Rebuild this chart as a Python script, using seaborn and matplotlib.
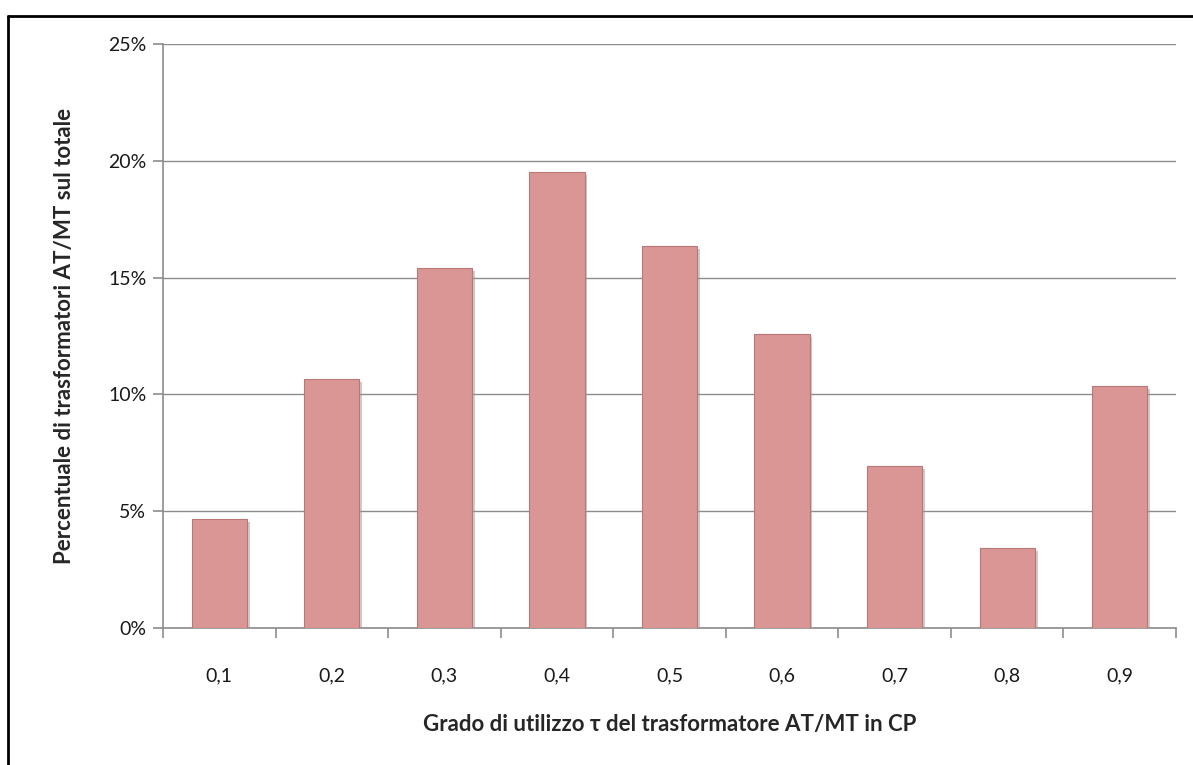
import matplotlib
matplotlib.use("Agg")
import matplotlib.pyplot as plt
import matplotlib.patheffects as pe
from matplotlib.ticker import FuncFormatter
import seaborn as sns
import pandas as pd

categories = ["0,1", "0,2", "0,3", "0,4", "0,5", "0,6", "0,7", "0,8", "0,9"]
values = [4.67, 10.66, 15.41, 19.52, 16.35, 12.59, 6.93, 3.42, 10.36]

sns.set_style("white")
plt.rcParams['font.family'] = ['Lato', 'DejaVu Sans']

df = pd.DataFrame({"cat": categories, "val": values})

fig = plt.figure(figsize=(11.93, 7.65), dpi=100)
ax = fig.add_axes([163/1193, 137/765, (1176-163)/1193, (628-44)/765])

sns.barplot(data=df, x="cat", y="val", order=categories, color="#D99694",
            width=0.49, saturation=1, ax=ax, edgecolor="#B97775", linewidth=0.8, zorder=3)
for p in ax.patches:
    p.set_path_effects([pe.SimplePatchShadow(offset=(2, -2), shadow_rgbFace="#999999", alpha=0.5), pe.Normal()])

ax.set_ylim(0, 25)
ax.set_yticks([0, 5, 10, 15, 20, 25])
ax.yaxis.set_major_formatter(FuncFormatter(lambda v, _: f"{int(v)}%"))
ax.set_xlim(-0.5, len(categories) - 0.5)
ax.grid(axis="y", color="#8C8C8C", linewidth=1, zorder=0)
ax.set_axisbelow(True)
for s in ["top", "right"]:
    ax.spines[s].set_visible(False)
for s in ["left", "bottom"]:
    ax.spines[s].set_color("#8C8C8C")
    ax.spines[s].set_linewidth(1.2)

ax.set_xticks([i + 0.5 for i in range(-1, len(categories))], minor=True)
ax.tick_params(axis="x", which="minor", length=7, color="#8C8C8C", width=1.2, direction="out", bottom=True)
ax.tick_params(axis="x", which="major", length=0, pad=28, labelsize=14, labelcolor="#1a1a1a")
ax.tick_params(axis="y", which="major", length=7, color="#8C8C8C", width=1.2, direction="out", left=True, pad=5, labelsize=14, labelcolor="#1a1a1a")

ax.set_xlabel("Grado di utilizzo τ del trasformatore AT/MT in CP", fontsize=16, fontweight="bold", labelpad=22)
ax.set_ylabel("Percentuale di trasformatori AT/MT sul totale", fontsize=16, fontweight="bold")
ax.yaxis.set_label_coords(-0.087, 0.5)

# outer frame (left and top edges visible)
fig.add_artist(plt.Line2D([8/1193, 8/1193], [0, 1 - 16/765], color="black", linewidth=2, transform=fig.transFigure))
fig.add_artist(plt.Line2D([8/1193, 1], [1 - 16/765, 1 - 16/765], color="black", linewidth=2, transform=fig.transFigure))

fig.savefig("out.png", dpi=100)
